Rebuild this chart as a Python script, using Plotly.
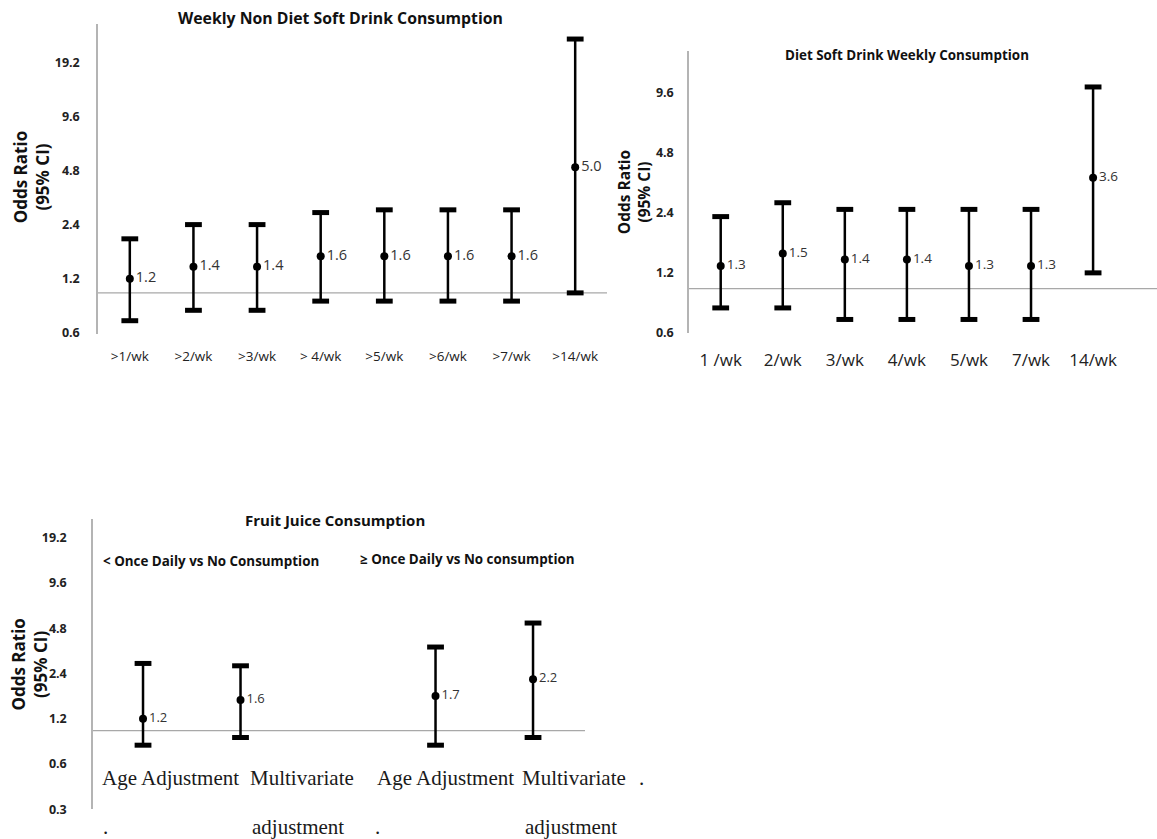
import math
import plotly.graph_objects as go

# ---- data -------------------------------------------------------------
nd_labels = [">1/wk", ">2/wk", ">3/wk", "> 4/wk", ">5/wk", ">6/wk", ">7/wk", ">14/wk"]
nd_or = [1.2, 1.4, 1.4, 1.6, 1.6, 1.6, 1.6, 5.0]
nd_lo = [0.7, 0.8, 0.8, 0.9, 0.9, 0.9, 0.9, 1.0]
nd_hi = [2.0, 2.4, 2.4, 2.8, 2.9, 2.9, 2.9, 25.9]

diet_labels = ["1 /wk", "2/wk", "3/wk", "4/wk", "5/wk", "7/wk", "14/wk"]
diet_or = [1.3, 1.5, 1.4, 1.4, 1.3, 1.3, 3.6]
diet_lo = [0.8, 0.8, 0.7, 0.7, 0.7, 0.7, 1.2]
diet_hi = [2.3, 2.7, 2.5, 2.5, 2.5, 2.5, 10.3]

juice_slots = [0, 1, 3, 4]
juice_or = [1.2, 1.6, 1.7, 2.2]
juice_lo = [0.8, 0.9, 0.8, 0.9]
juice_hi = [2.8, 2.7, 3.6, 5.2]
juice_row1 = ["Age Adjustment", "Multivariate", "Age Adjustment", "Multivariate", "."]
juice_row2 = [".", "adjustment", ".", "adjustment"]

top_ticks = [0.6, 1.2, 2.4, 4.8, 9.6, 19.2]
diet_ticks = [0.6, 1.2, 2.4, 4.8, 9.6]
juice_ticks = [0.3, 0.6, 1.2, 2.4, 4.8, 9.6, 19.2]

# ---- layout geometry (pixels) ----------------------------------------
W, H = 1157, 839
SANS = "Open Sans"
SERIF = "Liberation Serif"


def px(x0, x1):
    return [x0 / W, x1 / W]


def py(top, bottom):
    return [1 - bottom / H, 1 - top / H]


fig = go.Figure()


def add_ci(xs, ors, los, his, xa, ya, label_size):
    # whiskers and point estimates
    fig.add_trace(go.Scatter(
        x=xs, y=ors, mode="markers+text", xaxis=xa, yaxis=ya,
        marker=dict(color="black", size=8),
        error_y=dict(type="data", symmetric=False,
                     array=[h - o for h, o in zip(his, ors)],
                     arrayminus=[o - l for o, l in zip(ors, los)],
                     color="black", thickness=2.5, width=0),
        text=[f"{v:.1f}" for v in ors], textposition="middle right",
        textfont=dict(family=SANS, size=label_size, color="#333333"),
        cliponaxis=False, showlegend=False, hoverinfo="skip"))
    # caps at both ends of each interval
    fig.add_trace(go.Scatter(
        x=list(xs) + list(xs), y=list(his) + list(los), mode="markers",
        xaxis=xa, yaxis=ya,
        marker=dict(symbol="line-ew", size=12, color="black",
                    line=dict(color="black", width=5)),
        cliponaxis=False, showlegend=False, hoverinfo="skip"))


add_ci(list(range(len(nd_or))), nd_or, nd_lo, nd_hi, "x", "y", 14.5)
add_ci(list(range(len(diet_or))), diet_or, diet_lo, diet_hi, "x2", "y2", 13.5)
add_ci(juice_slots, juice_or, juice_lo, juice_hi, "x3", "y3", 13)

tick_font = dict(family=SANS, size=12.5, color="#222222", weight="bold")
yaxis_common = dict(type="log", showgrid=False, zeroline=False, showline=True,
                    linecolor="#b4b4b4", linewidth=1.5, ticks="",
                    tickfont=tick_font, layer="below traces")
xaxis_common = dict(showgrid=False, zeroline=False, showline=False, ticks="")

fig.update_layout(
    width=W, height=H, margin=dict(l=0, r=0, t=0, b=0),
    paper_bgcolor="white", plot_bgcolor="white",
    xaxis=dict(**xaxis_common, domain=px(98, 607), range=[-0.5, 7.5],
               tickvals=list(range(len(nd_labels))), ticktext=nd_labels,
               tickfont=dict(family=SANS, size=13.5, color="#222222"),
               ticklabelstandoff=13, anchor="y"),
    yaxis=dict(**yaxis_common, domain=py(24, 337),
               range=[math.log10(0.592), math.log10(31.5)],
               tickvals=top_ticks, ticktext=[f"{t}" for t in top_ticks],
               ticklabelstandoff=14, anchor="x"),
    xaxis2=dict(**xaxis_common, domain=px(689, 1157), range=[-0.511, 7.03],
                tickvals=list(range(len(diet_labels))), ticktext=diet_labels,
                tickfont=dict(family=SANS, size=17, color="#222222"),
                ticklabelstandoff=15, anchor="y2"),
    yaxis2=dict(**yaxis_common, domain=py(51, 336),
                range=[math.log10(0.6), math.log10(15.7)],
                tickvals=diet_ticks, ticktext=[f"{t}" for t in diet_ticks],
                ticklabelstandoff=11, anchor="x2"),
    xaxis3=dict(**xaxis_common, domain=px(93, 585), range=[-0.513, 4.533],
                showticklabels=False, anchor="y3"),
    yaxis3=dict(**yaxis_common, domain=py(524, 817),
                range=[math.log10(0.3), math.log10(25.6)],
                tickvals=juice_ticks, ticktext=[f"{t}" for t in juice_ticks],
                ticklabelstandoff=22, anchor="x3"),
)

# reference line at OR = 1
for ax in ["", "2", "3"]:
    fig.add_shape(type="line", xref=f"x{ax} domain", yref=f"y{ax}",
                  x0=0, x1=1, y0=1, y1=1, layer="below",
                  line=dict(color="#a8a8a8", width=1.2))


def text(x, y, s, size, bold=False, family=SANS, angle=0, xanchor="center",
         color="#111111"):
    fig.add_annotation(x=x / W, y=1 - y / H, xref="paper", yref="paper",
                       text=f"<b>{s}</b>" if bold else s, showarrow=False,
                       textangle=angle, xanchor=xanchor, yanchor="middle",
                       font=dict(family=family, size=size, color=color))


# chart titles
text(340, 18, "Weekly Non Diet Soft Drink Consumption", 15.8, bold=True)
text(907, 56, "Diet Soft Drink Weekly Consumption", 13.4, bold=True)
text(335, 525, "Fruit Juice Consumption", 15, bold=True)
text(211, 566, "< Once Daily vs No Consumption", 13.4, bold=True)
text(467, 564, "≥ Once Daily vs No consumption", 13.4, bold=True)

# y-axis titles
for cx, cy, sz in [(31, 179, 17), (634, 194, 15.5), (30, 671, 17)]:
    text(cx, cy, "Odds Ratio<br>(95% CI)", sz, bold=True, angle=-90)

# fruit juice category labels
for s, x0 in zip(juice_row1, [100, 248, 375, 520, 637]):
    text(x0, 785, s, 21, family=SERIF, xanchor="left", color="#1a1a1a")
for s, x0 in zip(juice_row2, [101, 250, 373, 523]):
    text(x0, 835, s, 21, family=SERIF, xanchor="left", color="#1a1a1a")

fig.write_html("out.html")
